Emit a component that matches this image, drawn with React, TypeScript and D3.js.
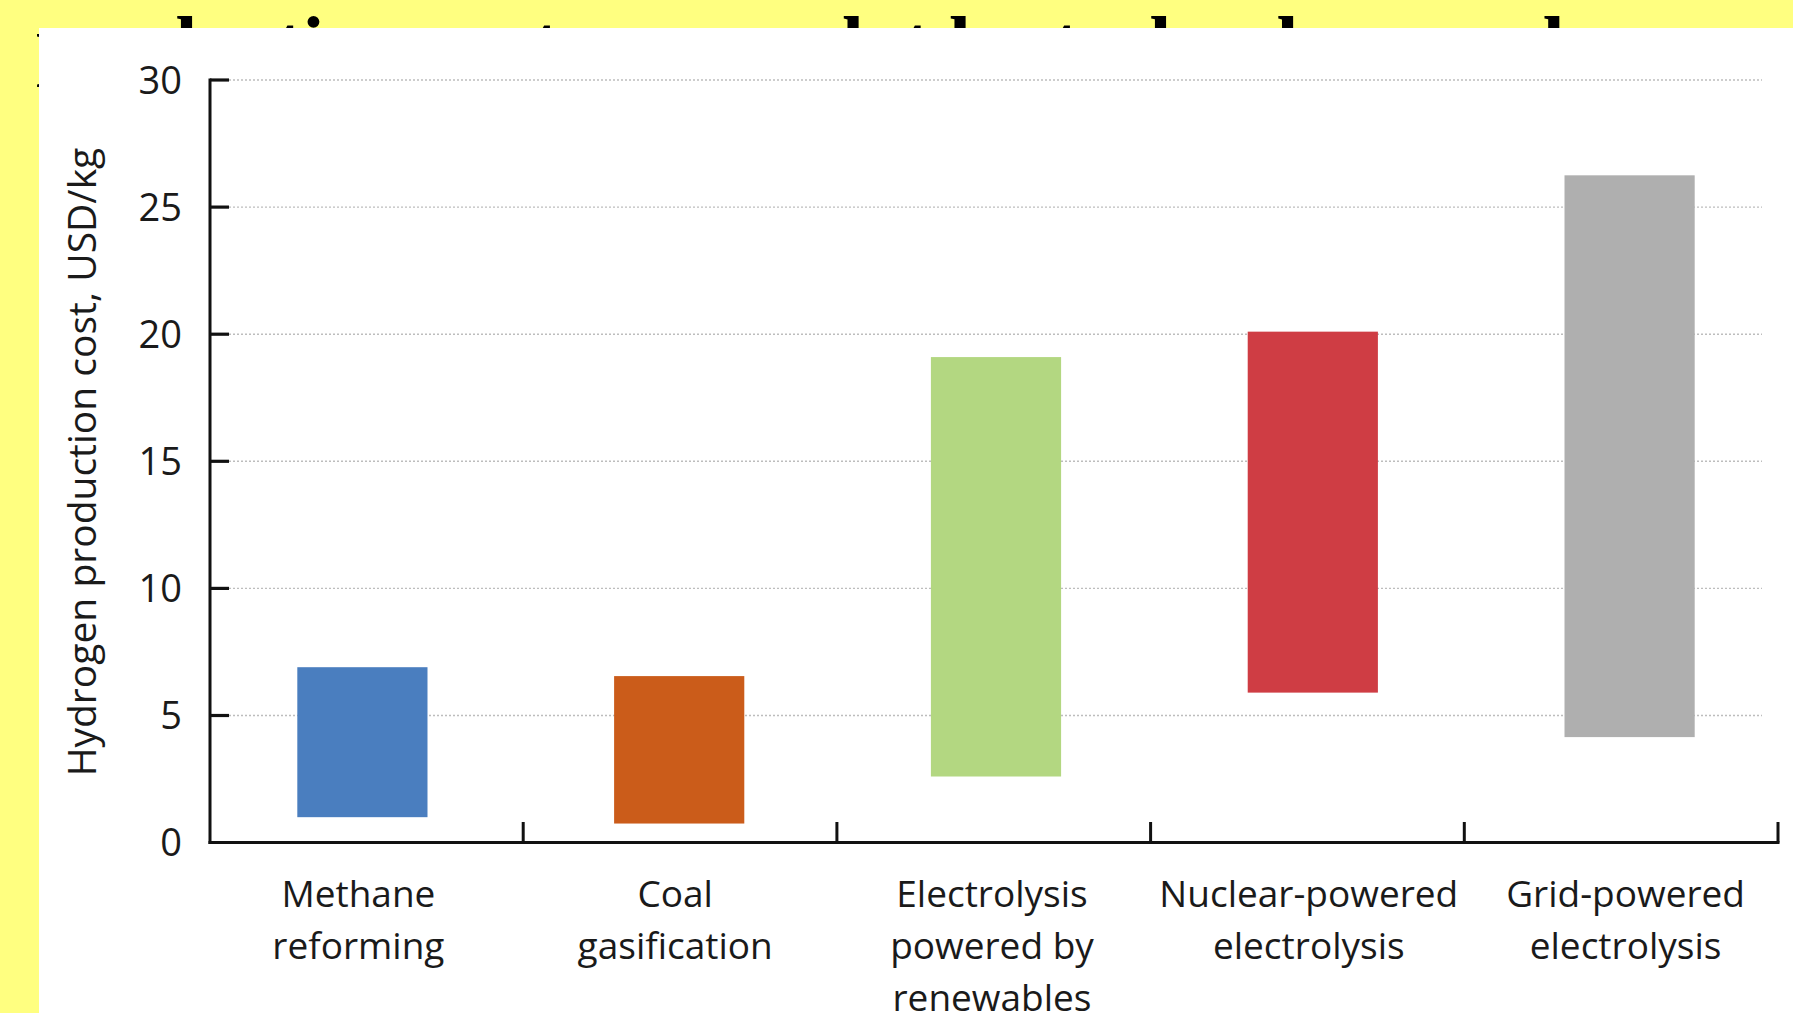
import React from "react";
import * as d3 from "d3";

const categories = [
  "Methane reforming",
  "Coal gasification",
  "Electrolysis powered by renewables",
  "Nuclear-powered electrolysis",
  "Grid-powered electrolysis",
];
const labelLines = [
  ["Methane", "reforming"],
  ["Coal", "gasification"],
  ["Electrolysis", "powered by", "renewables"],
  ["Nuclear-powered", "electrolysis"],
  ["Grid-powered", "electrolysis"],
];
const lowValues = [1.0, 0.75, 2.6, 5.9, 4.15];
const highValues = [6.9, 6.55, 19.1, 20.1, 26.25];
const barColors = ["#4a7ebf", "#cb5c1a", "#b3d781", "#cf3d44", "#afafaf"];
const yTicks = [0, 5, 10, 15, 20, 25, 30];
const yTitle = "Hydrogen production cost, USD/kg";
const hiddenTitle = "production costs vary a lot by technology and energy source";

const W = 1793;
const H = 1013;

export default function App() {
  const y = d3.scaleLinear().domain([0, 30]).range([842.6, 80]);
  // scale for the axis segments (ticks between categories)
  const xAxis = d3.scaleBand<string>().domain(categories).range([209.5, 1778]).padding(0);
  // scale for the bars and labels (slightly wider step, as in the reference)
  const x = d3.scaleBand<string>().domain(categories).range([204, 1788]).padding(0);
  const bw = xAxis.bandwidth() * 0.415;
  const font = "'Open Sans', 'Noto Sans', sans-serif";
  const boundaries = categories.map((c) => (xAxis(c) as number) + xAxis.step());
  const cx = (c: string) => (x(c) as number) + x.bandwidth() / 2;

  return (
    <svg
      width={W}
      height={H}
      style={{ position: "absolute", left: 0, top: 0, display: "block" }}
    >
      <rect x={0} y={0} width={W} height={H} fill="#ffff80" />
      <text
        x={36}
        y={70}
        fontFamily="'Liberation Serif', 'Times New Roman', serif"
        fontWeight="bold"
        fontSize={79}
        fill="#000"
      >
        {hiddenTitle}
      </text>
      <rect x={39} y={28} width={W - 39} height={H - 28} fill="#ffffff" />

      {/* gridlines */}
      {yTicks
        .filter((t) => t > 0)
        .map((t) => (
          <line
            key={"g" + t}
            x1={229}
            x2={1762}
            y1={y(t)}
            y2={y(t)}
            stroke="#bdbdbd"
            strokeWidth={1.4}
            strokeDasharray="2 2"
          />
        ))}

      {/* bars */}
      {categories.map((c, i) => (
        <rect
          key={c}
          x={cx(c) - bw / 2}
          y={y(highValues[i])}
          width={bw}
          height={y(lowValues[i]) - y(highValues[i])}
          fill={barColors[i]}
        />
      ))}

      {/* y axis */}
      <line x1={210} x2={210} y1={78.5} y2={844} stroke="#111" strokeWidth={3} />
      {yTicks
        .filter((t) => t > 0)
        .map((t) => (
          <line key={"yt" + t} x1={210} x2={229} y1={y(t)} y2={y(t)} stroke="#111" strokeWidth={3.2} />
        ))}
      {yTicks.map((t) => (
        <text
          key={"yl" + t}
          x={182}
          y={y(t)}
          dy="0.36em"
          textAnchor="end"
          fontFamily={font}
          fontSize={38}
          fill="#1a1a1a"
        >
          {t}
        </text>
      ))}
      <text
        transform={`translate(96, 462) rotate(-90)`}
        textAnchor="middle"
        fontFamily={font}
        fontSize={39}
        fill="#1a1a1a"
      >
        {yTitle}
      </text>

      {/* x axis */}
      <line x1={208.5} x2={1779.5} y1={842.6} y2={842.6} stroke="#111" strokeWidth={3} />
      {boundaries.map((b, i) => (
        <line key={"xt" + i} x1={b} x2={b} y1={842.6} y2={822} stroke="#111" strokeWidth={3} />
      ))}
      {categories.map((c, i) => (
        <text
          key={"xl" + c}
          x={cx(c) - 4}
          y={907}
          textAnchor="middle"
          fontFamily={font}
          fontSize={37}
          fill="#1a1a1a"
        >
          {labelLines[i].map((ln, j) => (
            <tspan key={j} x={cx(c) - 4} dy={j === 0 ? 0 : 52}>
              {ln}
            </tspan>
          ))}
        </text>
      ))}
    </svg>
  );
}
